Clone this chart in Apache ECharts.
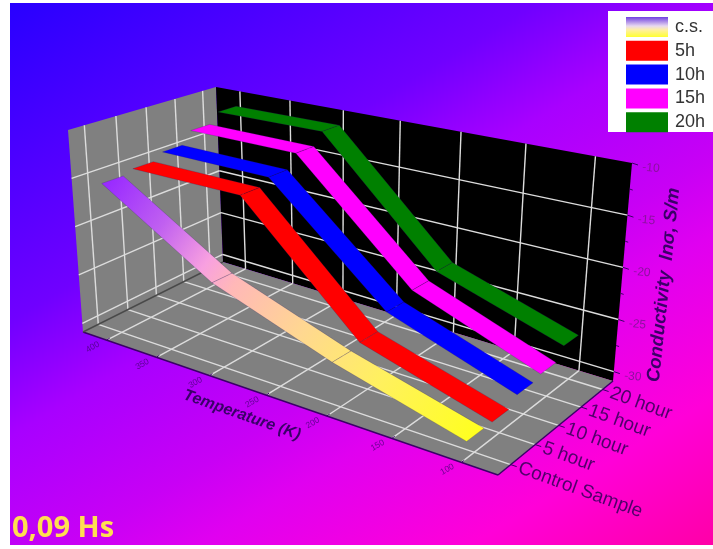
<!DOCTYPE html><html><head><script src="https://cdn.jsdelivr.net/npm/echarts@6/dist/echarts.min.js"></script></head><body style="margin:0;background:#fff"><div id="c" style="width:713px;height:549px"></div><script>
var tempTicks=[400,350,300,250,200,150,100];
var sampleLabels=['Control Sample','5 hour','10 hour','15 hour','20 hour'];
var condTicks=[-30,-25,-20,-15,-10];
var legendNames=['c.s.','5h','10h','15h','20h'];
var temps4=[400,300,200,100];
var csValues=[-15.1,-22.2,-26.3,-29.4];
var h5Values=[-14.7,-14.9,-26.0,-29.4];
var h10Values=[-14.0,-14.2,-24.6,-28.6];
var h15Values=[-12.7,-12.8,-23.9,-28.3];
var h20Values=[-11.6,-11.5,-23.4,-27.2];
var T0=425,T1=75,S0=-.5,S1=4.5,Z0=-30.9,Z1=-10;
var floorC=[[83,332],[498,475],[613,381],[223,262]],topC=[[68,130],[517,223],[632,163],[216,87]];
function solve(A,b){var n=b.length,M=A.map(function(r,i){return r.concat(b[i])});for(var i=0;i<n;i++){var p=i;for(var k=i;k<n;k++)if(Math.abs(M[k][i])>Math.abs(M[p][i]))p=k;var t=M[i];M[i]=M[p];M[p]=t;for(var k=0;k<n;k++)if(k!=i){var f=M[k][i]/M[i][i];for(var j=i;j<=n;j++)M[k][j]-=f*M[i][j];}}return M.map(function(r,i){return r[n]/r[i]});}
function homog(C){var N=[[0,0],[1,0],[1,1],[0,1]],A=[],b=[];N.forEach(function(n,i){var u=C[i][0],v=C[i][1],x=n[0],y=n[1];A.push([x,y,1,0,0,0,-u*x,-u*y]);b.push(u);A.push([0,0,0,x,y,1,-v*x,-v*y]);b.push(v);});var h=solve(A,b);return function(x,y){var w=h[6]*x+h[7]*y+1;return [(h[0]*x+h[1]*y+h[2])/w,(h[3]*x+h[4]*y+h[5])/w];};}
var Hf=homog(floorC),Ht=homog(topC);
function proj(T,s,z){var x=(T0-T)/(T0-T1);x=x-0.1*x*(1-x);var y=(s-S0)/(S1-S0),q=(z-Z0)/(Z1-Z0),a=Hf(x,y),b=Ht(x,y);return [a[0]+(b[0]-a[0])*q,a[1]+(b[1]-a[1])*q];}

var LG=echarts.graphic.LinearGradient;
var bg=new LG(10,3,436,710,[{offset:0,color:'#2800ff'},{offset:.33,color:'#7000ff'},{offset:.45,color:'#a800ff'},{offset:.6,color:'#c800f5'},{offset:.68,color:'#e000f0'},{offset:.85,color:'#ff00d8'},{offset:1,color:'#ff00a8'}],true);
var csStops=[{offset:0,color:'#9a2cff'},{offset:.15,color:'#c060f0'},{offset:.28,color:'#f8a0e0'},{offset:.36,color:'#ffb8b8'},{offset:.55,color:'#ffd890'},{offset:.75,color:'#fff060'},{offset:1,color:'#ffff20'}];
var DARK='#3a0068',GRID='#dcdcdc',W=0.34;
function poly(pts,fill,stroke,lw){return {type:'polygon',shape:{points:pts},style:{fill:fill,stroke:stroke||null,lineWidth:lw||0}};}
function seg(d,color,lw){var p=proj(d[0],d[1],d[2]),q=proj(d[3],d[4],d[5]);return {type:'line',shape:{x1:p[0],y1:p[1],x2:q[0],y2:q[1]},style:{stroke:color,lineWidth:lw}};}
function text(str,x,y,rot,size,color,extra){return {type:'text',x:x,y:y,rotation:rot*Math.PI/180,style:Object.assign({text:str,fontSize:size,fill:color,fontFamily:'Liberation Sans',textAlign:'center',textVerticalAlign:'middle'},extra||{})};}
function cs(name,data,render,z){return {type:'custom',name:name,coordinateSystem:'none',data:data,z:z||2,silent:true,animation:false,renderItem:function(p,api){return render(data[p.dataIndex],p.dataIndex);}};}
var planes=['side','back','floor'];
function planeRender(k){var P=k=='side'?[[T0,S0,Z0],[T0,S1,Z0],[T0,S1,Z1],[T0,S0,Z1]]:k=='back'?[[T0,S1,Z0],[T1,S1,Z0],[T1,S1,Z1],[T0,S1,Z1]]:[[T0,S0,Z0],[T1,S0,Z0],[T1,S1,Z0],[T0,S1,Z0]];return poly(P.map(function(a){return proj(a[0],a[1],a[2]);}),k=='back'?'#000000':'#808080');}
var gridLines=[];
tempTicks.forEach(function(T){gridLines.push([T,S0,Z0,T,S1,Z0]);gridLines.push([T,S1,Z0,T,S1,Z1]);});
sampleLabels.forEach(function(_,s){gridLines.push([T0,s,Z0,T1,s,Z0]);gridLines.push([T0,s,Z0,T0,s,Z1]);});
condTicks.forEach(function(z){if(z<Z1){gridLines.push([T0,S0,z,T0,S1,z]);gridLines.push([T0,S1,z,T1,S1,z]);}});
var edges=[[T0,S0,Z0,T1,S0,Z0],[T1,S0,Z0,T1,S1,Z0],[T0,S0,Z0,T0,S1,Z0]];
function ribbon(name,values,fillFn,z){var data=temps4.map(function(T,i){return [T,legendNames.indexOf(name),values[i]];});return cs(name,data,function(d,i){if(i==0)return null;var a=data[i-1],f=fillFn(data);var P=[proj(a[0],a[1]-W,a[2]),proj(a[0],a[1]+W,a[2]),proj(d[0],d[1]+W,d[2]),proj(d[0],d[1]-W,d[2])];return poly(P,f,'rgba(40,20,90,.35)',.6);},z);}
function solid(c){return function(){return c;};}
var csFill=function(data){var a=proj(data[0][0],0,data[0][2]),b=proj(data[3][0],0,data[3][2]);return new LG(a[0],a[1],b[0],b[1],csStops,true);};
var zTickAll=[];condTicks.forEach(function(z,i){zTickAll.push([z,1]);if(i<condTicks.length-1)zTickAll.push([z+2.5,0]);});
var legendFill=[new LG(0,0,0,1,[{offset:0,color:'#7040e0'},{offset:.45,color:'#e8d8f0'},{offset:.65,color:'#fff0a0'},{offset:1,color:'#ffff30'}]),'#ff0000','#0000ff','#ff00ff','#008000'];
var series=[
 cs('planes',planes,planeRender,2),
 cs('grid',gridLines,function(d){return seg(d,GRID,1.4);},3),
 cs('edges',edges,function(d,i){return seg(d,i==2?'#4a4a4a':DARK,1.5);},4),
 cs('tempTick',tempTicks,function(T){var p=proj(T,S0,Z0);return {type:'group',children:[{type:'line',shape:{x1:p[0],y1:p[1],x2:p[0]+3,y2:p[1]-2},style:{stroke:DARK,lineWidth:1}},text(String(T),p[0]-14,p[1]+7,30,8.5,'rgba(70,0,120,.78)')]};},4),
 cs('sampleTick',sampleLabels,function(L,s){var p=proj(T1,s,Z0);return {type:'group',children:[{type:'line',shape:{x1:p[0],y1:p[1],x2:p[0]+6,y2:p[1]+2},style:{stroke:DARK,lineWidth:1}},text(L,p[0]+8,p[1]+3,-20,19,'#50006a',{textAlign:'left'})]};},4),
 cs('zTick',zTickAll,function(d){var p=proj(T1,S1,d[0]),n=d[1]?6:3,ch=[{type:'line',shape:{x1:p[0],y1:p[1],x2:p[0]+n,y2:p[1]+n/3},style:{stroke:DARK,lineWidth:1}}];if(d[1])ch.push(text(String(d[0]),p[0]+19,p[1]+5,-5,12,'#8c10a0'));return {type:'group',children:ch};},4),
 ribbon('20h',h20Values,solid('#008000'),5),ribbon('15h',h15Values,solid('#ff00ff'),5),ribbon('10h',h10Values,solid('#0000ff'),5),ribbon('5h',h5Values,solid('#ff0000'),5),ribbon('c.s.',csValues,csFill,5),
 cs('legendBox',[0],function(){return {type:'rect',shape:{x:608,y:11,width:105,height:121},style:{fill:'#fff'}};},9),
 cs('legendItems',legendNames,function(n,i){var y=17+i*23.8;return {type:'group',children:[{type:'rect',shape:{x:626,y:y,width:42,height:20},style:{fill:legendFill[i]}},text(n,675,y+10,0,18,'#333',{textAlign:'left'})]};},10)
];
var chart=echarts.init(document.getElementById('c'),null,{renderer:'canvas'});
chart.setOption({animation:false,
 graphic:[{type:'rect',z:-10,silent:true,shape:{x:10,y:3,width:703,height:542},style:{fill:bg}},
  {type:'text',z:10,silent:true,x:12,y:502,style:{text:'0,09 Hs',fontFamily:'Open Sans',fontWeight:700,fontSize:29,fill:'#ffdf50'}},
  {type:'text',z:10,silent:true,x:242,y:415,rotation:-19.5*Math.PI/180,style:{text:'Temperature (K)',fontFamily:'Liberation Sans',fontWeight:'bold',fontStyle:'italic',fontSize:16,fill:DARK,textAlign:'center',textVerticalAlign:'middle'}},
  {type:'text',z:10,silent:true,x:664,y:285,rotation:84*Math.PI/180,style:{text:'Conductivity  ln\u03c3, S/m',fontFamily:'Liberation Sans',fontWeight:'bold',fontStyle:'italic',fontSize:18.5,fill:DARK,textAlign:'center',textVerticalAlign:'middle'}}],
 series:series});
</script></body></html>
